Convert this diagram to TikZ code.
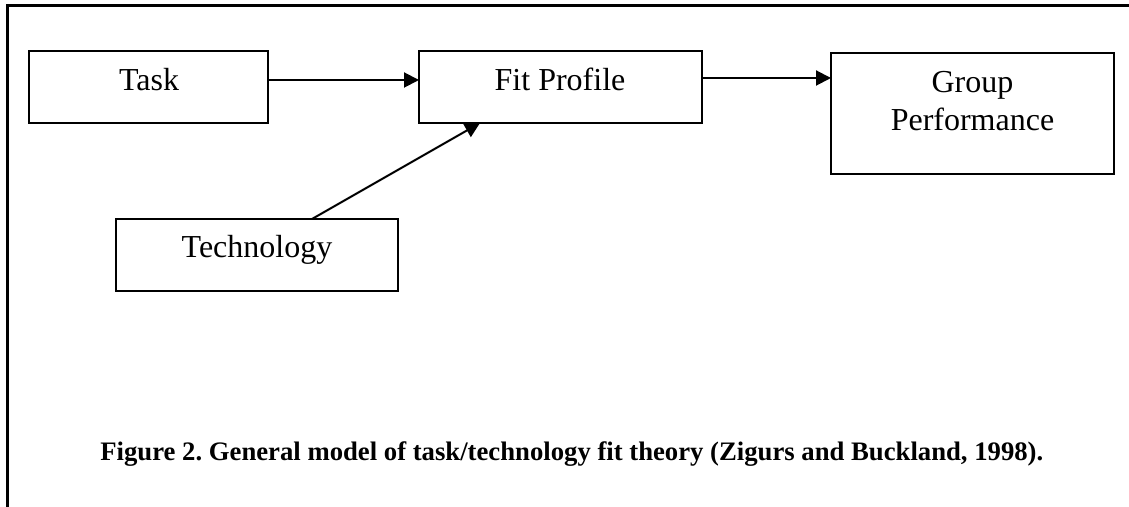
\documentclass[tikz,border=0pt]{standalone}
\usepackage{fontspec}
\setmainfont{Liberation Serif}
\usetikzlibrary{arrows.meta}
\begin{document}
\frenchspacing
\begin{tikzpicture}[x=0.5pt,y=-0.5pt,
  box/.style={draw, line width=1pt, rectangle, inner sep=0pt, outer sep=0pt},
  lbl/.style={inner sep=0pt, anchor=base, font=\fontsize{16}{19}\selectfont, align=center},
  arr/.style={line width=1pt, -{Triangle[length=7.5pt,width=7.5pt]}},
  captxt/.style={inner sep=0pt, anchor=base west, font=\fontsize{13.35}{16}\selectfont\bfseries}]
\useasboundingbox (0,0) rectangle (1129,507);
% frame
\draw[line width=1.5pt] (1129,6) -- (7.5,6) -- (7.5,507);
% boxes
\node[box, minimum width=119.5pt, minimum height=36pt] (task) at (148.5,87) {};
\node[box, minimum width=141.5pt, minimum height=36pt] (fit) at (560.5,87) {};
\node[box, minimum width=141.5pt, minimum height=60.5pt] (group) at (972.5,113.5) {};
\node[box, minimum width=141pt, minimum height=36pt] (tech) at (257,255) {};
% labels
\node[lbl] (tasktxt) at (149,91) {Task};
\node[lbl] (fittxt) at (560,91) {Fit Profile};
\node[lbl] (grouptxt) at (972.5,93) {Group};
\node[lbl] (perftxt) at (972.5,131) {Performance};
\node[lbl] (techtxt) at (257,258) {Technology};
% connectors
\coordinate (fitout) at ([yshift=4.5pt]fit.east);
\draw[arr] ([yshift=3.5pt]task.east) -- ([yshift=3.5pt]fit.west);
\draw[arr] (fitout) -- (group.west |- fitout);
\draw[arr] ([xshift=98pt]tech.north west) -- ([xshift=30.5pt]fit.south west);
% caption
\node[captxt] (caption) at (100,460) {Figure 2. General model of task/technology fit theory (Zigurs and Buckland, 1998).};
\end{tikzpicture}
\end{document}
